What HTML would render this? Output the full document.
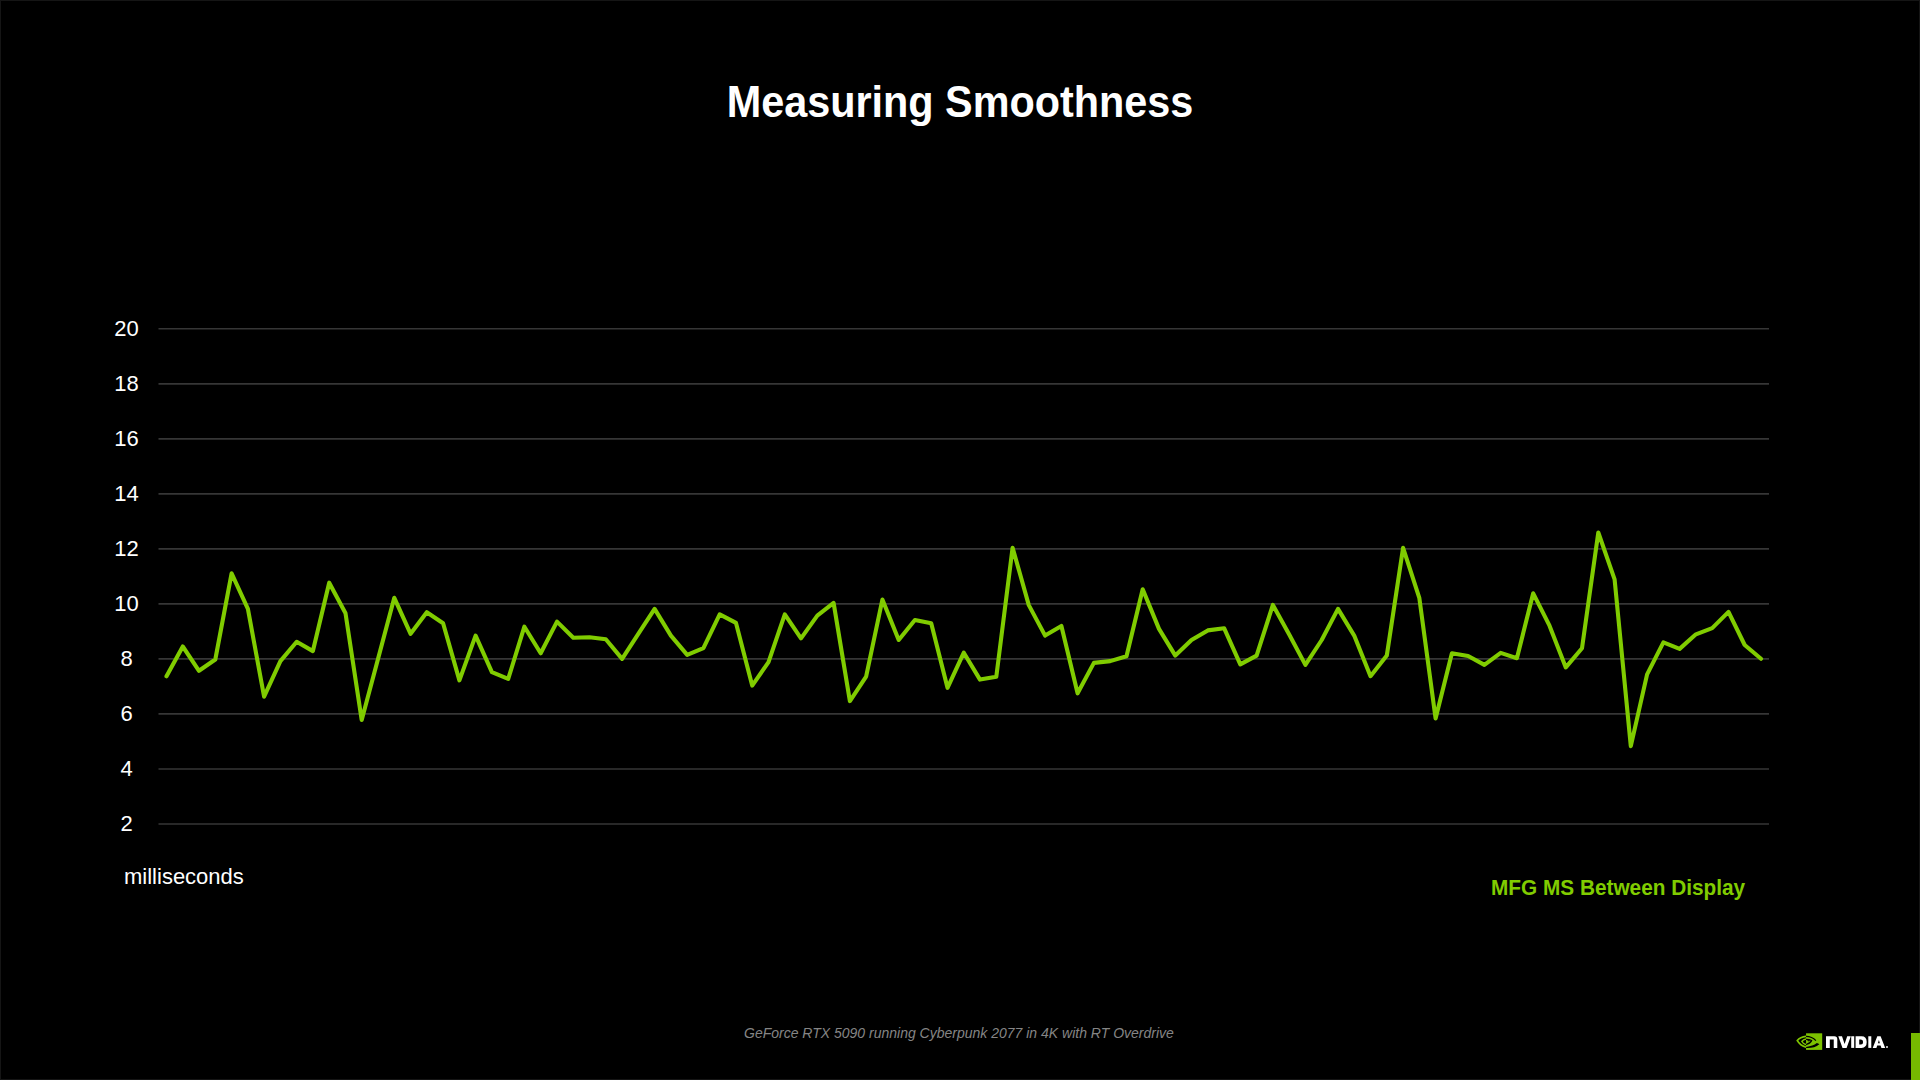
<!DOCTYPE html>
<html><head><meta charset="utf-8">
<style>
html,body{margin:0;padding:0;background:#000;}
body{width:1920px;height:1080px;position:relative;overflow:hidden;font-family:"Liberation Sans",sans-serif;}
#frame{position:absolute;left:0;top:0;width:1918px;height:1078px;border:1px solid #151515;}
.t{position:absolute;white-space:nowrap;line-height:1;}
#title{left:0;width:1920px;text-align:center;top:80px;font-size:44px;transform:scaleX(0.94);transform-origin:961px 0;font-weight:bold;color:#fff;}
.yl{position:absolute;left:100px;width:53px;text-align:center;font-size:22px;line-height:24px;color:#fff;}
#ms{left:124px;top:865.5px;font-size:22px;color:#fff;}
#leg{left:1491px;top:876.5px;font-size:22px;transform:scaleX(0.945);transform-origin:0 0;font-weight:bold;color:#80cc00;}
#foot{left:744px;top:1026.3px;font-size:14px;font-style:italic;color:#858585;}
svg{position:absolute;left:0;top:0;}
</style></head><body>
<div id="frame"></div>
<svg width="1920" height="1080" viewBox="0 0 1920 1080">
<g stroke="#363636" stroke-width="1.7"><line x1="158.5" y1="328.75" x2="1769" y2="328.75"/><line x1="158.5" y1="383.78" x2="1769" y2="383.78"/><line x1="158.5" y1="438.81" x2="1769" y2="438.81"/><line x1="158.5" y1="493.84" x2="1769" y2="493.84"/><line x1="158.5" y1="548.87" x2="1769" y2="548.87"/><line x1="158.5" y1="603.90" x2="1769" y2="603.90"/><line x1="158.5" y1="658.93" x2="1769" y2="658.93"/><line x1="158.5" y1="713.96" x2="1769" y2="713.96"/><line x1="158.5" y1="768.99" x2="1769" y2="768.99"/><line x1="158.5" y1="824.02" x2="1769" y2="824.02"/></g>
<path d="M166.5 676.3 L182.8 646.5 L199.0 670.8 L215.3 659.5 L231.6 573.3 L247.9 608.9 L264.1 696.7 L280.4 661.1 L296.7 641.8 L312.9 651.1 L329.2 582.7 L345.5 613.3 L361.7 720.0 L378.0 659.0 L394.3 597.8 L410.6 633.8 L426.8 612.2 L443.1 623.3 L459.4 680.4 L475.6 635.6 L491.9 672.2 L508.2 678.9 L524.4 626.7 L540.7 653.3 L557.0 621.6 L573.3 637.8 L589.5 637.3 L605.8 639.3 L622.1 658.9 L638.3 633.8 L654.6 608.9 L670.9 635.6 L687.2 654.9 L703.4 648.2 L719.7 614.4 L736.0 622.9 L752.2 685.6 L768.5 662.2 L784.8 614.4 L801.0 638.4 L817.3 615.6 L833.6 602.9 L849.9 701.1 L866.1 676.7 L882.4 599.6 L898.7 640.0 L914.9 620.0 L931.2 623.3 L947.5 687.8 L963.8 652.7 L980.0 679.6 L996.3 676.7 L1012.6 547.8 L1028.8 605.1 L1045.1 635.6 L1061.4 626.0 L1077.6 693.3 L1093.9 662.9 L1110.2 661.1 L1126.5 656.2 L1142.7 589.3 L1159.0 628.9 L1175.3 655.6 L1191.5 640.0 L1207.8 630.4 L1224.1 628.2 L1240.3 664.4 L1256.6 655.6 L1272.9 604.9 L1289.2 634.4 L1305.4 664.9 L1321.7 640.0 L1338.0 608.9 L1354.2 635.6 L1370.5 676.2 L1386.8 655.6 L1403.1 547.8 L1419.3 597.8 L1435.6 718.4 L1451.9 653.3 L1468.1 656.0 L1484.4 664.9 L1500.7 652.9 L1516.9 658.2 L1533.2 593.3 L1549.5 625.7 L1565.8 667.4 L1582.0 648.2 L1598.3 532.5 L1614.6 579.4 L1630.8 746.1 L1647.1 674.4 L1663.4 642.4 L1679.6 648.9 L1695.9 634.3 L1712.2 628.1 L1728.5 611.9 L1744.7 645.0 L1761.0 658.8" fill="none" stroke="#80cc00" stroke-width="4.1" stroke-linejoin="round" stroke-linecap="round"/>
</svg>
<div id="title" class="t">Measuring Smoothness</div>
<div class="yl" style="top:316.75px">20</div><div class="yl" style="top:371.75px">18</div><div class="yl" style="top:426.75px">16</div><div class="yl" style="top:481.75px">14</div><div class="yl" style="top:536.75px">12</div><div class="yl" style="top:591.75px">10</div><div class="yl" style="top:646.75px">8</div><div class="yl" style="top:701.75px">6</div><div class="yl" style="top:756.75px">4</div><div class="yl" style="top:811.75px">2</div>
<div id="ms" class="t">milliseconds</div>
<div id="leg" class="t">MFG MS Between Display</div>
<div id="foot" class="t">GeForce RTX 5090 running Cyberpunk 2077 in 4K with RT Overdrive</div>
<svg width="1920" height="1080" viewBox="0 0 1920 1080" style="left:0;top:0">
<defs>
<clipPath id="cl"><rect x="1790" y="1025" width="16.05" height="30"/></clipPath>
<clipPath id="cr"><rect x="1806.05" y="1033.3" width="16.15" height="16.6"/></clipPath>
</defs>
<g transform="translate(1794 1031)">
<g clip-path="url(#cl)" transform="translate(-1794 -1031)"><g transform="translate(1794 1031)" fill="none" stroke="#80c800">
<path d="M12.3 5.4 Q6.2 5.9 3.3 9.6 Q6.2 14.6 12.3 16.2" stroke-width="1.7"/>
<path d="M12.3 8.0 Q9.2 8.4 7.9 10.5 Q9.2 12.9 12.3 13.7" stroke-width="1.5"/>
</g></g>
</g>
<rect x="1806.05" y="1033.3" width="16.15" height="16.6" fill="#7cc200"/>
<g clip-path="url(#cr)"><g transform="translate(1794 1031)">
<path d="M11.8 5.45 Q18 5.5 21.9 9.6" fill="none" stroke="#000" stroke-width="1.25"/>
<path d="M11.8 8.45 Q15.6 8.4 17.6 9.6 Q16 12.6 11.8 13.6" fill="none" stroke="#000" stroke-width="1.2"/>
<path d="M12.05 16.0 Q19 15.2 22.8 12.1 Q24.3 12.4 25.4 13.2 Q20 17.5 12.05 17.0 Z" fill="#000"/>
<path d="M13.1 9.0 Q15.5 8.9 16.6 9.8 L14.7 10.6 Z" fill="#000"/>
</g></g>
<g fill="#fff">
<path d="M1826 1047.9 V1036.25 H1834.3 Q1837.3 1036.25 1837.3 1039.3 V1047.9 H1833.75 V1039.6 H1829.8 V1047.9 Z"/>
<path d="M1838.3 1036.25 H1842 L1844.6 1044 L1847.2 1036.25 H1850.8 L1846.6 1047.9 H1842.5 Z"/>
<path d="M1851.2 1036.25 H1854.2 V1047.9 H1851.2 Z"/>
<path fill-rule="evenodd" d="M1855.6 1036.25 H1861.5 Q1866.7 1036.25 1866.7 1042.1 Q1866.7 1047.9 1861.5 1047.9 H1855.6 Z M1859.2 1039.6 V1044.6 H1861 Q1863.1 1044.6 1863.1 1042.1 Q1863.1 1039.6 1861 1039.6 Z"/>
<path d="M1868.3 1036.25 H1871.3 V1047.9 H1868.3 Z"/>
<path fill-rule="evenodd" d="M1872.7 1047.9 L1877.3 1036.25 H1880.6 L1885.2 1047.9 H1881.4 L1880.6 1045.6 H1877.2 L1876.4 1047.9 Z M1877.9 1043.2 H1879.9 L1878.9 1040 Z"/>
<circle cx="1887" cy="1047" r="0.95"/>
</g>
</svg>
<div style="position:absolute;left:1911.4px;top:1033.1px;width:8.6px;height:46.9px;background:#76b900"></div>
</body></html>
